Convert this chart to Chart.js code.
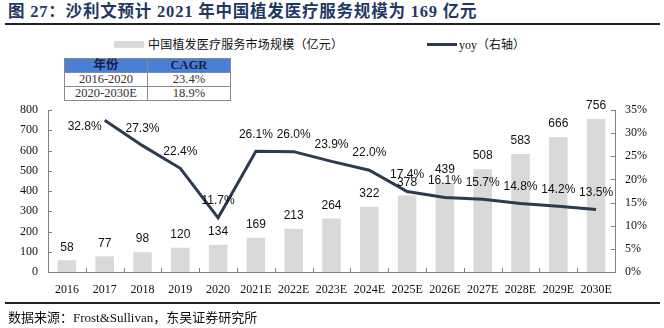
<!DOCTYPE html>
<html><head><meta charset="utf-8">
<script src="https://cdn.jsdelivr.net/npm/chart.js@4/dist/chart.umd.min.js"></script>
<style>
html,body{margin:0;padding:0;background:#fff;}
#wrap{position:relative;width:664px;height:328px;overflow:hidden;font-family:"Liberation Serif","Noto Sans CJK SC",serif;}
#title{position:absolute;left:8px;top:1px;font-size:16.5px;letter-spacing:0.8px;font-weight:bold;color:#1f3864;white-space:nowrap;line-height:22px;}
#rule1{position:absolute;left:5px;top:23px;width:655px;height:2px;background:#222;}
#rule2{position:absolute;left:5px;top:302px;width:655px;height:2px;background:#222;}
#source{position:absolute;left:8px;top:309px;font-size:13px;color:#111;white-space:nowrap;line-height:18px;}
.lg{position:absolute;font-size:12px;color:#111;white-space:nowrap;line-height:14px;font-family:"Noto Sans CJK SC","Liberation Serif",sans-serif;}
#lgbox{position:absolute;left:114px;top:41px;width:30px;height:7px;background:#d9d9d9;}
#lgline{position:absolute;left:427px;top:43px;width:30px;height:3px;background:#2d3b50;}
table{position:absolute;left:64px;top:58px;border-collapse:collapse;font-size:12.5px;}
td{border:1px solid #8a8a8a;width:82px;height:13px;padding:0;text-align:center;line-height:13px;color:#333;}
tr.h td{background:#4a7fd6;color:#14224a;font-weight:bold;}
canvas{position:absolute;left:0;top:0;}
</style></head>
<body><div id="wrap">
<div id="title">图 27：沙利文预计 2021 年中国植发医疗服务规模为 169 亿元</div>
<div id="rule1"></div>
<div id="lgbox"></div><div class="lg" style="left:148px;top:37px;letter-spacing:0.2px;">中国植发医疗服务市场规模（亿元）</div>
<div id="lgline"></div><div class="lg" style="left:459px;top:37px;"><span style="font-family:'Liberation Serif'">yoy</span>（右轴）</div>
<table>
<tr class="h"><td>年份</td><td>CAGR</td></tr>
<tr><td>2016-2020</td><td>23.4%</td></tr>
<tr><td>2020-2030E</td><td>18.9%</td></tr>
</table>
<canvas id="c" width="664" height="328"></canvas>
<div id="rule2"></div>
<div id="source">数据来源：Frost&amp;Sullivan，东吴证券研究所</div>
</div>
<script>
const categories = ["2016","2017","2018","2019","2020","2021E","2022E","2023E","2024E","2025E","2026E","2027E","2028E","2029E","2030E"];
const marketSize = [58,77,98,120,134,169,213,264,322,378,439,508,583,666,756];
const yoy = [null,32.8,27.3,22.4,11.7,26.1,26.0,23.9,22.0,17.4,16.1,15.7,14.8,14.2,13.5];
const leftTicks = [0,100,200,300,400,500,600,700,800];
const rightTicks = [0,5,10,15,20,25,30,35];

const labelPlugin = {
  id:'labels',
  afterDatasetsDraw(chart){
    const ctx = chart.ctx;
    ctx.save();
    ctx.font = '12px "Liberation Sans", Arial, sans-serif';
    ctx.fillStyle = '#111';
    ctx.textAlign = 'center';
    ctx.textBaseline = 'middle';
    const barMeta = chart.getDatasetMeta(0);
    barMeta.data.forEach((el,i)=>{
      ctx.fillText(String(marketSize[i]), el.x, el.y - 13);
    });
    const lineMeta = chart.getDatasetMeta(1);
    lineMeta.data.forEach((el,i)=>{
      if (yoy[i]==null) return;
      let dx = 0, dy = -17;
      if (i===1){ dx = -20; dy = 7; }
      ctx.fillText(yoy[i].toFixed(1)+'%', el.x+dx, el.y+dy);
    });
    ctx.strokeStyle = '#808080';
    ctx.lineWidth = 1;
    const a = chart.chartArea;
    const yl = chart.scales.y, yr = chart.scales.y1, x = chart.scales.x;
    ctx.beginPath();
    leftTicks.forEach(v=>{const p=Math.round(yl.getPixelForValue(v))+0.5; ctx.moveTo(a.left,p); ctx.lineTo(a.left+4,p);});
    rightTicks.forEach(v=>{const p=Math.round(yr.getPixelForValue(v))+0.5; ctx.moveTo(a.right-4,p); ctx.lineTo(a.right,p);});
    for(let i=1;i<categories.length;i++){
      const p = Math.round((x.getPixelForValue(i-1)+x.getPixelForValue(i))/2)+0.5;
      ctx.moveTo(p,a.bottom); ctx.lineTo(p,a.bottom-4);
    }
    ctx.stroke();
    ctx.restore();
  }
};

new Chart(document.getElementById('c'),{
  data:{
    labels:categories,
    datasets:[
      {type:'bar',data:marketSize,backgroundColor:'#d9d9d9',yAxisID:'y',barPercentage:0.49,categoryPercentage:1,order:2},
      {type:'line',data:yoy,borderColor:'#2d3b50',borderWidth:3,pointRadius:0,yAxisID:'y1',tension:0,order:1,spanGaps:false}
    ]
  },
  options:{
    responsive:false,animation:false,
    layout:{padding:{top:110,left:0,right:0,bottom:0}},
    plugins:{legend:{display:false},tooltip:{enabled:false}},
    scales:{
      x:{
        grid:{display:false,drawTicks:false},
        border:{color:'#808080',width:1},
        ticks:{color:'#111',font:{family:'Liberation Serif',size:12},padding:11,maxRotation:0,autoSkip:false},
        afterFit(s){s.height=56;}
      },
      y:{
        position:'left',min:0,max:800,
        grid:{display:false,drawTicks:false},
        border:{color:'#808080',width:1},
        ticks:{stepSize:100,color:'#111',font:{family:'Liberation Serif',size:12},padding:10},
        afterFit(s){s.width=48;}
      },
      y1:{
        position:'right',min:0,max:35,
        grid:{display:false,drawTicks:false},
        border:{color:'#808080',width:1},
        ticks:{stepSize:5,color:'#111',font:{family:'Liberation Serif',size:12},padding:10,callback:v=>v+'%'},
        afterFit(s){s.width=49;}
      }
    }
  },
  plugins:[labelPlugin]
});
</script>
</body></html>
